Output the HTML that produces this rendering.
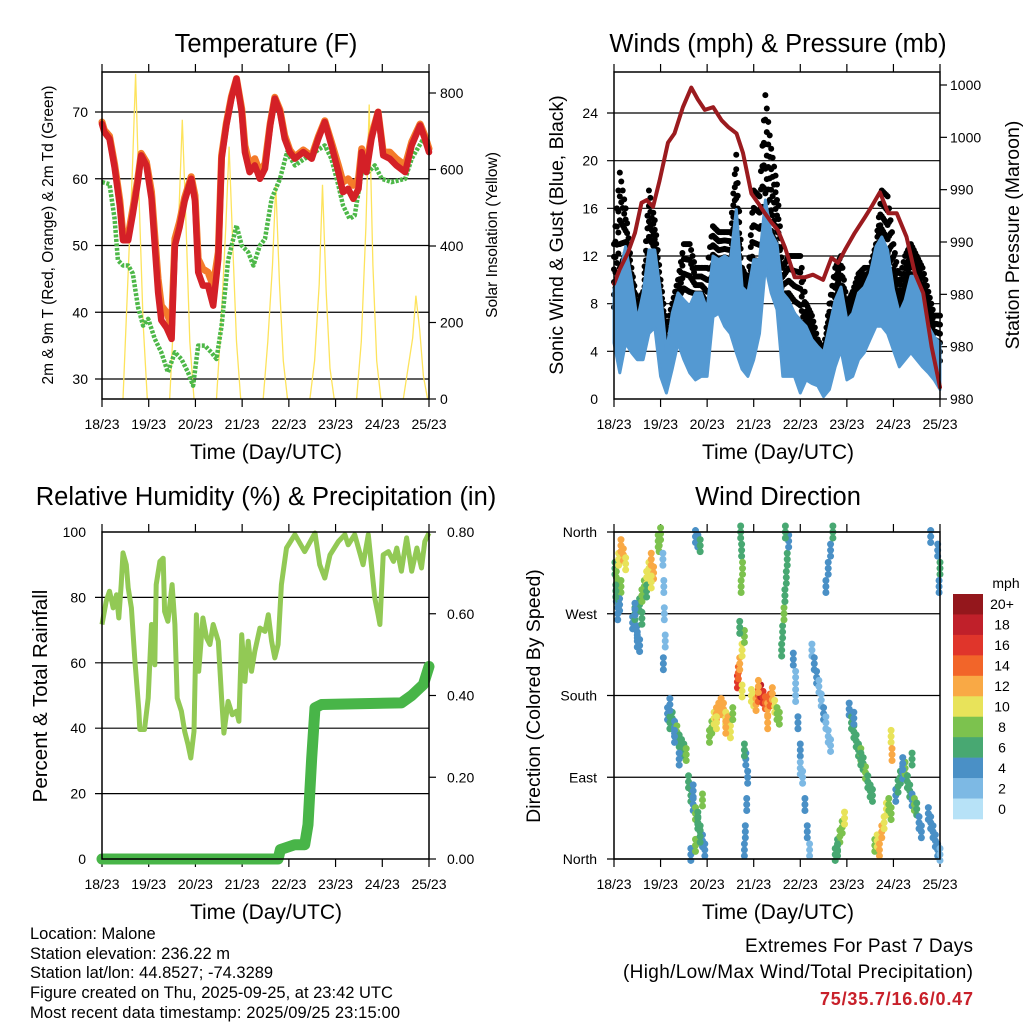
<!DOCTYPE html>
<html><head><meta charset="utf-8"><style>
html,body{margin:0;padding:0;background:#fff}
svg{display:block;font-family:"Liberation Sans",sans-serif}
</style></head><body>
<svg id="c" width="1024" height="1024" viewBox="0 0 1024 1024">
<rect width="1024" height="1024" fill="#fff"/>
<text x="266" y="52" font-size="25.5" text-anchor="middle">Temperature (F)</text>
<text x="778" y="52" font-size="25.5" text-anchor="middle">Winds (mph) &amp; Pressure (mb)</text>
<text x="266" y="505" font-size="25.5" text-anchor="middle">Relative Humidity (%) &amp; Precipitation (in)</text>
<text x="778" y="505" font-size="25.5" text-anchor="middle">Wind Direction</text>
<text x="266" y="459" font-size="21" text-anchor="middle">Time (Day/UTC)</text>
<text x="778" y="459" font-size="21" text-anchor="middle">Time (Day/UTC)</text>
<text x="266" y="919" font-size="21" text-anchor="middle">Time (Day/UTC)</text>
<text x="778" y="919" font-size="21" text-anchor="middle">Time (Day/UTC)</text>
<text transform="translate(53,235) rotate(-90)" font-size="15.5" text-anchor="middle">2m &amp; 9m T (Red, Orange) &amp; 2m Td (Green)</text>
<text transform="translate(497,235) rotate(-90)" font-size="15.5" text-anchor="middle">Solar Insolation (Yellow)</text>
<text transform="translate(563,235) rotate(-90)" font-size="19.5" text-anchor="middle">Sonic Wind &amp; Gust (Blue, Black)</text>
<text transform="translate(1019,235) rotate(-90)" font-size="19.5" text-anchor="middle">Station Pressure (Maroon)</text>
<text transform="translate(47,696) rotate(-90)" font-size="20.5" text-anchor="middle">Percent &amp; Total Rainfall</text>
<text transform="translate(540,696) rotate(-90)" font-size="19.5" text-anchor="middle">Direction (Colored By Speed)</text>
<g font-size="16.5">
<text x="30" y="939">Location: Malone</text>
<text x="30" y="959">Station elevation: 236.22 m</text>
<text x="30" y="978">Station lat/lon: 44.8527; -74.3289</text>
<text x="30" y="998">Figure created on Thu, 2025-09-25, at 23:42 UTC</text>
<text x="30" y="1018" textLength="370">Most recent data timestamp: 2025/09/25 23:15:00</text>
</g>
<text x="745" y="952" font-size="19" textLength="228">Extremes For Past 7 Days</text>
<text x="623" y="978" font-size="19" textLength="350">(High/Low/Max Wind/Total Precipitation)</text>
<text x="820" y="1005" font-size="18" font-weight="bold" fill="#c8202a" textLength="153">75/35.7/16.6/0.47</text>
</svg>
<script>
// ---------- data ----------
const dayLabels=["18/23","19/23","20/23","21/23","22/23","23/23","24/23","25/23"];
const tDays=[0,.05,.16,.27,.38,.45,.56,.66,.77,.84,.95,1.06,1.13,1.2,1.27,1.38,1.49,1.56,1.66,1.77,1.91,1.99,2.06,2.16,2.27,2.38,2.49,2.56,2.66,2.77,2.88,2.99,3.06,3.16,3.27,3.38,3.49,3.6,3.7,3.81,3.91,4.02,4.13,4.31,4.49,4.63,4.77,4.91,5.06,5.16,5.27,5.38,5.49,5.56,5.66,5.77,5.91,6.02,6.16,6.3,6.49,6.63,6.81,6.91,7];
const temp2m=[68.2,67,66,61.7,56,50.8,50.8,54.7,59.7,63.5,62,57,50,43,38.8,37.7,36,50,52.7,56.7,60,56.7,46,44,44,41,48,63,68,72,75,70,64,61,62,60,61.5,68,72,70,66,64,63,64,63,66,68.5,65,61,58,58.5,57,58.5,64,61,66,70,63.5,63,62,61,65,68,66,64];
const temp9m=[68.5,67.3,66.4,62.2,56.8,51.5,51.5,55.5,60.2,63.8,62.5,58,51.5,45,41,40,38,51,53.5,57.2,60.3,57.5,48,46.5,46,44,49,63.5,68.3,72.3,75,70.5,65,62,63,61,62.3,68.3,72.2,70.3,66.5,64.3,63.3,64.3,63.4,66.3,68.7,65.5,62,59.5,60,59,60,64.5,62,66.5,70,64,64,63,62,65.5,68.2,66.5,64.5];
const dewDays=[0,.16,.27,.34,.45,.56,.66,.77,.88,.99,1.13,1.27,1.41,1.56,1.7,1.84,1.95,2.06,2.2,2.34,2.45,2.56,2.7,2.88,2.99,3.13,3.24,3.38,3.49,3.63,3.81,3.96,4.13,4.34,4.56,4.77,4.91,5.06,5.16,5.3,5.41,5.56,5.7,5.84,5.99,6.2,6.49,6.63,6.88,7];
const dew2m=[59.5,59.2,54,47.8,47,47,45.8,40.8,38,39,36,34,31,34,33,31,29,35,35,34,33,38,47.8,53,50,49,47,50,51,57,60,64,62,63,64,65,63,59,56,54,54.5,61,61,62,60,59.5,60,63,66,64];
const solarFrac=[.45,.55,.65,.72,.8,.88,.97];
const solarDay0=[0,300,600,850,500,200,0];
const solarDay1=[0,250,500,730,450,150,0];
const solarDay2=[0,200,450,660,400,150,0];
const solarDay3=[0,150,350,560,300,100,0];
const solarDay4=[0,100,300,560,280,80,0];
const solarDay5=[0,150,450,770,350,100,0];
const solarDay6=[0,80,160,270,180,60,0];
const tempTicks=[30,40,50,60,70];
const solarTicks=[0,200,400,600,800];

const windHi=[9.2,10.5,12.8,10,6.6,8.9,12.5,12.5,8.9,3.9,7.2,8.9,8.3,7.8,8.9,8.9,7.5,12,11.7,12,11.7,15.9,9.4,8.9,11.7,11.7,16.7,13.9,13,8.9,8.3,7.2,6.6,6.1,5,4.4,3.9,6.1,8.3,9.4,6.6,7.2,8.9,9.4,10.5,12.8,13.6,12.5,9.2,7.2,8.3,10.3,10.3,8.3,6.1,5.2,4.7];
const windLo=[4.7,2.2,4.7,3.9,3.3,3.3,5.5,6,1.9,.5,2.5,4.7,3.3,2.2,1.6,1.9,1.9,6.9,7.2,6.1,5.5,3.9,2.5,1.9,3.3,5.5,11.1,8.9,7.5,1.9,1.9,1.9,.5,1.6,1.3,1.1,.2,.8,2.7,4.1,1.6,1.9,3.3,3.9,5,6.1,6.1,5.5,4.1,2.7,3.3,3.9,3.3,2.7,2.2,1.6,.8];
const gustHi=[13,19,16,11,8,9,17.5,15,10,6,8,10,13,13,11,11,11,14.5,14,14,14,20.5,11,10,17.5,17,25.5,21,18,11,12,12,12,8,7,5,4,8,11,12,8,9,10.5,11,11,13,17.5,17,13,10,12,13,12,11,9,7,7];
const windTicks=[0,4,8,12,16,20,24];
const presDays=[0,.12,.3,.45,.59,.7,.84,.98,1.16,1.3,1.48,1.66,1.8,1.95,2.13,2.31,2.45,2.63,2.77,2.95,3.09,3.24,3.38,3.52,3.67,3.88,4.1,4.27,4.49,4.67,4.81,4.96,5.17,5.39,5.53,5.71,5.89,6.07,6.28,6.46,6.64,6.82,7];
const pressure=[986.8,987.9,989.2,990.7,993,993.2,992.7,994.7,997.6,998.3,1000.3,1001.8,1000.9,1000.1,1000.3,999.3,998.8,998.3,996.8,993.7,993,992.2,991.5,990.9,989.6,987.3,987.3,987.5,987.1,988.8,988.4,989.4,990.7,991.9,992.7,993.8,992.2,992.2,990.4,987.6,986.1,982,978.9];
const presTicks=[978,982,986,990,994,998,1002];
const presTickLabels=["980","980","980","990","990","1000","1000"];

const rhDays=[0,.09,.16,.24,.31,.36,.41,.45,.52,.56,.63,.7,.79,.81,.91,.99,1.06,1.13,1.16,1.24,1.31,1.34,1.41,1.5,1.56,1.61,1.7,1.77,1.84,1.9,1.97,2.02,2.07,2.16,2.24,2.31,2.38,2.49,2.56,2.61,2.7,2.79,2.88,2.93,2.99,3.06,3.13,3.2,3.27,3.38,3.49,3.56,3.63,3.7,3.77,3.84,3.95,4.13,4.34,4.56,4.66,4.77,4.88,5.06,5.2,5.27,5.41,5.59,5.7,5.84,5.91,5.95,6.02,6.13,6.24,6.31,6.41,6.52,6.63,6.74,6.84,6.91,7];
const rh=[71.7,78.8,81.9,76.8,80.8,73.7,83.9,93.6,90,82.9,76.8,61.5,45.2,39.6,39.6,49.2,71.7,59.4,83.9,91,92,75.7,72.7,83.9,71.7,49.2,45.2,39,35,30.9,39,74.7,57.4,73.7,67.6,65.6,71.7,66.6,49.2,38.5,48.2,44.1,45.2,42.1,68.6,54.3,66.6,57.4,63.5,70.6,69.6,74.7,66.6,61.5,65.6,83.9,95.1,99.2,94,99.7,90,85.9,93,97.1,99.2,96.1,99.2,90,99.2,79.8,74.7,71.7,93,94,91,95.1,88,98.2,88,95.1,89,97.1,99.7];
const rainDays=[0,3.77,3.82,4.13,4.34,4.41,4.49,4.56,4.7,6.41,6.63,6.88,7];
const rain=[0,0,.023,.035,.035,.084,.247,.37,.378,.382,.4,.427,.471];
const rhTicks=[0,20,40,60,80,100];
const rainTicks=[0,.2,.4,.6,.8];
const rainTickLabels=["0.00","0.20","0.40","0.60","0.80"];

const dirDays=[.02,.05,.1,.15,.2,.25,.05,.1,.15,.08,.12,.04,.4,.45,.5,.55,.6,.65,.7,.75,.8,.85,.5,.55,.6,.45,.7,.8,.95,.97,1,1.05,1.07,1.08,1.1,1.06,1.15,1.2,1.25,1.3,1.35,1.4,1.45,1.5,1.55,1.2,1.3,1.4,1.6,1.65,1.7,1.75,1.8,1.85,1.9,1.95,1.65,1.75,1.85,1.7,1.8,1.9,1.75,1.8,1.85,2.05,2.1,2.15,2.2,2.25,2.3,2.35,2.4,2.45,2.5,2.55,2.2,2.4,2.65,2.67,2.7,2.75,2.8,2.7,2.75,2.72,2.74,2.76,2.73,2.8,2.82,2.85,2.87,2.83,2.8,2.95,3,3.05,3.1,3.15,3.2,3.25,3.3,3.35,3.4,3.45,3.5,3.55,3.1,3.3,3.6,3.62,3.65,3.67,3.7,3.72,3.75,3.68,3.85,3.9,3.95,4,4.05,4.1,4.15,4.2,3.9,4,4.25,4.3,4.35,4.4,4.45,4.5,4.55,4.6,4.65,4.55,4.6,4.65,4.7,4.75,4.8,4.85,4.9,4.95,4.8,5.05,5.1,5.15,5.2,5.25,5.3,5.35,5.4,5.45,5.5,5.55,5.15,5.3,5.6,5.65,5.7,5.75,5.8,5.85,5.9,5.95,5.95,5.97,6.05,6.1,6.15,6.2,6.25,6.3,6.35,6.4,6.45,6.5,6.55,6.6,6.2,6.4,6.75,6.8,6.85,6.9,6.95,7,6.8,6.95,7,6.98];
const dirDeg=[320,310,330,345,335,325,290,285,300,270,280,295,260,270,250,280,290,300,310,320,330,315,240,235,265,275,295,305,350,345,358,330,300,270,240,215,160,150,155,145,140,130,125,120,115,170,135,110,85,70,60,50,40,30,20,10,5,15,25,75,45,65,355,350,345,135,145,155,160,165,170,165,155,150,140,160,150,145,195,205,215,230,245,255,185,360,340,320,300,10,30,60,90,110,120,180,175,170,180,185,178,172,165,175,182,168,160,155,190,150,230,250,270,290,310,330,350,360,220,180,150,120,90,60,30,10,200,100,230,215,200,190,175,160,150,135,125,300,320,340,360,5,15,25,35,45,10,165,150,140,130,120,115,105,95,85,75,70,155,110,15,20,10,30,40,55,60,50,135,115,70,80,90,95,100,85,75,65,60,55,40,30,105,110,50,40,30,20,10,5,355,340,320,300];
const dirSpd=[6,7,10,12,11,9,4,5,8,4,3,6,4,5,4,6,7,8,9,10,12,11,4,4,5,3,6,9,7,7,8,2,1,2,1,3,4,5,6,4,7,6,5,6,7,3,4,4,6,5,4,7,6,5,4,3,4,8,6,4,5,7,4,4,6,7,8,10,11,12,12,11,10,12,9,8,10,11,16,14,12,10,7,6,9,6,6,7,8,4,4,3,4,4,6,9,10,12,14,18,16,14,12,13,12,10,8,7,12,11,6,6,7,5,6,5,4,6,3,2,4,3,2,3,4,2,1,2,2,3,4,2,1,3,2,1,2,3,4,4,5,5,6,7,8,9,6,4,5,6,5,6,7,6,7,6,5,6,4,5,8,10,11,12,10,9,8,7,10,11,4,5,6,4,7,5,6,4,8,5,4,3,4,6,4,3,4,3,4,2,4,4,5,4];
const dirTicks=[0,90,180,270,360];
const dirTickLabels=["North","East","South","West","North"];
const spdLevels=["0","2","4","6","8","10","12","14","16","18","20+"];
const spdColors=["#b7e2f7","#7db9e4","#4a90c6","#48a872","#7cc24e","#e8e35a","#f9a945","#f26529","#e0352b","#c0202a","#94171c"];

// ---------- drawing ----------
const svg=document.getElementById('c');
const NS="http://www.w3.org/2000/svg";
function mk(tag,attrs,parent){const e=document.createElementNS(NS,tag);for(const k in attrs)e.setAttribute(k,attrs[k]);(parent||svg).appendChild(e);return e;}
function lin(d0,d1,r0,r1){return v=>r0+(v-d0)/(d1-d0)*(r1-r0);}
function pts(xs,ys,fx,fy){return xs.map((x,i)=>fx(x).toFixed(1)+","+fy(ys[i]).toFixed(1)).join(" ");}

function frame(name,L,T,R,B,fx){
  const g=mk('g',{});
  
  
  dayLabels.forEach((lab,i)=>{
    const x=fx(i);
    const tk=mk('line',{x1:x,x2:x,y1:T,y2:T-8,stroke:'#000','stroke-width':1.2},g);
    
    
    const tb=mk('line',{x1:x,x2:x,y1:B,y2:B+8,stroke:'#000','stroke-width':1.2},g);
    
    
    const t=mk('text',{x:x,y:B+30,'font-size':14,'text-anchor':'middle'},g);
    
    
    t.textContent=lab;
  });
  return g;
}
function border(L,T,R,B,name){
  const r=mk('rect',{x:L,y:T,width:R-L,height:B-T,fill:'none',stroke:'#000','stroke-width':1.5});
  
  
}
function hgrid(vals,fy,L,R,name){
  vals.forEach(v=>{const l=mk('line',{x1:L-7,x2:R,y1:fy(v),y2:fy(v),stroke:'#000','stroke-width':1.2});
    
    });
}
function yLabels(vals,labs,fy,x,anchor,name){
  vals.forEach((v,i)=>{const t=mk('text',{x:x,y:fy(v)+5,'font-size':14,'text-anchor':anchor});
    
    
    t.textContent=labs[i];});
}
function rTicks(vals,fy,R,name){
  vals.forEach(v=>{const l=mk('line',{x1:R,x2:R+7,y1:fy(v),y2:fy(v),stroke:'#000','stroke-width':1.2});
    
    });
}

// Panel 1: temperature
(function(){
  const L=102,T=72,R=429,B=399;
  const fx=lin(0,7,L,R), fy=lin(30,70,379,112), fs=lin(0,800,B,93);
  frame('temp',L,T,R,B,fx);
  hgrid(tempTicks,fy,L,R,'temp');
  yLabels(tempTicks,tempTicks.map(String),fy,88,'end','temp-y');
  rTicks(solarTicks,fs,R,'solar');
  yLabels(solarTicks,solarTicks.map(String),fs,440,'start','solar');
  const sd=[solarDay0,solarDay1,solarDay2,solarDay3,solarDay4,solarDay5,solarDay6];
  sd.forEach((arr,d)=>{
    const p=mk('polyline',{points:pts(solarFrac.map(f=>d+f),arr,fx,fs),fill:'none',stroke:'#fde35c','stroke-width':1.3});
    
    
  });
  const o=mk('polyline',{points:pts(tDays,temp9m,fx,fy),fill:'none',stroke:'#f47b2a','stroke-width':7,'stroke-linejoin':'round','stroke-linecap':'round'});
  
  
  const g=mk('polyline',{points:pts(dewDays,dew2m,fx,fy),fill:'none',stroke:'#4db848','stroke-width':4.5,'stroke-dasharray':'3 1.5','stroke-linejoin':'round'});
  
  
  const r=mk('polyline',{points:pts(tDays,temp2m,fx,fy),fill:'none',stroke:'#d42027','stroke-width':6.5,'stroke-linejoin':'round','stroke-linecap':'round'});
  
  
  border(L,T,R,B,'temp');
})();

// Panel 2: winds
(function(){
  const L=614,T=72,R=940,B=399;
  const fx=lin(0,7,L,R), fy=lin(0,24,B,113), fp=lin(978,1002,B,85);
  frame('winds',L,T,R,B,fx);
  hgrid(windTicks.slice(1),fy,L,R,'wind');
  yLabels(windTicks,windTicks.map(String),fy,598,'end','wind-y');
  rTicks(presTicks,fp,R,'pressure');
  yLabels(presTicks,presTickLabels,fp,950,'start','pressure');
  const step=7/(windHi.length-1);
  const wd=windHi.map((_,i)=>i*step);
  const gg=mk('g',{});
  
  
  for(let i=0;i<wd.length;i++){
    const segs=i<wd.length-1?[0,.25,.5,.75]:[0];
    segs.forEach(s=>{
      const d=wd[i]+s*step;
      const j=s?i+1:i;
      const hi=gustHi[i]+(gustHi[j]-gustHi[i])*s;
      const lo=windHi[i]+(windHi[j]-windHi[i])*s-1.5;
      [0,.2,.4,.6,.8,1].forEach(f=>{
        const c=mk('circle',{cx:fx(d),cy:fy(lo+(hi-lo)*f),r:3,fill:'#000'},gg);
        
        
      });
    });
  }
  const poly=wd.map((d,i)=>fx(d).toFixed(1)+","+fy(windHi[i]).toFixed(1)).concat(wd.slice().reverse().map((d,k)=>{const i=wd.length-1-k;return fx(d).toFixed(1)+","+fy(windLo[i]).toFixed(1);})).join(" ");
  const b=mk('polygon',{points:poly,fill:'#5499d2',stroke:'#5499d2','stroke-width':3,'stroke-linejoin':'round'});
  
  
  const p=mk('polyline',{points:pts(presDays,pressure,fx,fp),fill:'none',stroke:'#9b1b1f','stroke-width':4,'stroke-linejoin':'round','stroke-linecap':'round'});
  
  
  border(L,T,R,B,'winds');
})();

// Panel 3: RH & precip
(function(){
  const L=102,T=532,R=429,B=859;
  const fx=lin(0,7,L,R), fy=lin(0,100,B,T), fr=lin(0,.8,B,T);
  frame('rh',L,T,R,B,fx);
  hgrid(rhTicks.slice(1,5),fy,L,R,'rh');
  yLabels(rhTicks,rhTicks.map(String),fy,86,'end','rh-y');
  rTicks(rainTicks,fr,R,'rain');
  yLabels(rainTicks,rainTickLabels,fr,447,'start','rain');
  const h=mk('polyline',{points:pts(rhDays,rh,fx,fy),fill:'none',stroke:'#92c955','stroke-width':5,'stroke-linejoin':'round'});
  
  
  const r=mk('polyline',{points:pts(rainDays,rain,fx,fr),fill:'none',stroke:'#48b548','stroke-width':11,'stroke-linejoin':'round','stroke-linecap':'round'});
  
  
  border(L,T,R,B,'rh');
})();

// Panel 4: wind direction
(function(){
  const L=614,T=532,R=940,B=859;
  const fx=lin(0,7,L,R), fy=lin(0,360,B,T);
  frame('dir',L,T,R,B,fx);
  hgrid(dirTicks,fy,L,R,'dir');
  yLabels(dirTicks,dirTickLabels,fy,597,'end','dir-y');
  const g=mk('g',{});
  
  
  dirDays.forEach((d,i)=>{
    const k=Math.min(10,Math.round(dirSpd[i]/2));
    [-6,0,6].forEach(off=>{
      const c=mk('circle',{cx:fx(d),cy:fy(dirDeg[i])+off,r:3.5,fill:spdColors[k]},g);
      
      
    });
  });
  border(L,T,R,B,'dir');
  const cb=mk('g',{});
  
  
  const bh=(819-594)/spdLevels.length;
  spdLevels.forEach((lab,i)=>{
    const idx=spdLevels.length-1-i;
    const y=594+i*bh;
    const r=mk('rect',{x:953,y:y,width:30,height:bh+0.3,fill:spdColors[idx]},cb);
    
    
    const t=mk('text',{x:1002,y:y+bh/2+5,'font-size':14,'text-anchor':'middle'},cb);
    
    
    t.textContent=spdLevels[idx];
  });
  const m=mk('text',{x:1006,y:588,'font-size':14,'text-anchor':'middle'},cb);
  
  
  m.textContent='mph';
})();
</script>
</body></html>
